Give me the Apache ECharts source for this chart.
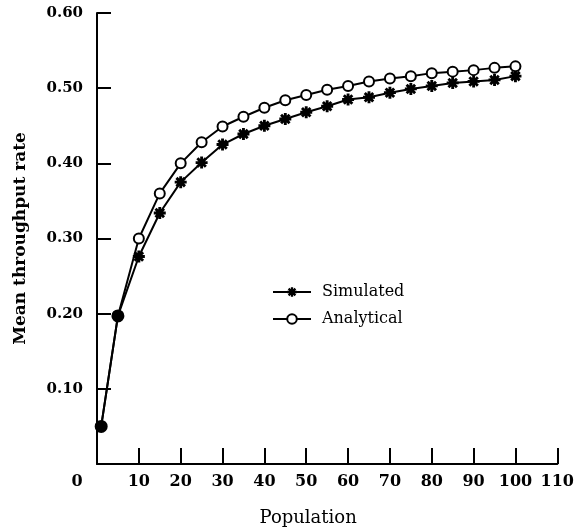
<!DOCTYPE html>
<html>
<head>
<meta charset="utf-8">
<script src="https://cdn.jsdelivr.net/npm/echarts@6/dist/echarts.min.js"></script>
<style>
  html, body { margin: 0; padding: 0; background: #fff; }
  #chart { width: 577px; height: 532px; }
</style>
</head>
<body>
<div id="chart"></div>
<script>
// population sizes where throughput was measured
var population = [1, 5, 10, 15, 20, 25, 30, 35, 40, 45, 50, 55, 60, 65, 70, 75, 80, 85, 90, 95, 100];
var simulated = [0.050, 0.197, 0.276, 0.334, 0.375, 0.401, 0.425, 0.439, 0.450, 0.459, 0.468,
  0.476, 0.485, 0.488, 0.494, 0.499, 0.503, 0.507, 0.509, 0.511, 0.516];
var analytical = [0.050, 0.197, 0.300, 0.360, 0.400, 0.428, 0.449, 0.462, 0.474, 0.484, 0.491,
  0.498, 0.503, 0.509, 0.513, 0.516, 0.520, 0.522, 0.524, 0.527, 0.529];

var FONT = 'DejaVu Serif';
// asterisk marker
var star = 'path://M-1.2,-5L1.2,-5L1.2,5L-1.2,5Z M-5,-1.2L5,-1.2L5,1.2L-5,1.2Z ' +
  'M-4.39,-2.69L-2.69,-4.39L4.39,2.69L2.69,4.39Z M2.69,-4.39L4.39,-2.69L-2.69,4.39L-4.39,2.69Z';

function buildData(vals) {
  return population.map(function (p, i) {
    if (i < 2) {
      // the first points coincide, drawn as solid dots
      return { value: [p, vals[i]], symbol: 'circle', symbolSize: 11, itemStyle: { color: '#000' } };
    }
    return [p, vals[i]];
  });
}

var chart = echarts.init(document.getElementById('chart'));
var option = {
  backgroundColor: '#fff',
  animation: false,
  grid: { left: 97, right: 17, top: 13, bottom: 66 },
  legend: {
    orient: 'vertical',
    left: 267,
    top: 279,
    itemWidth: 38,
    itemHeight: 12,
    itemGap: 11,
    textStyle: { fontFamily: FONT, fontSize: 16, color: '#000', padding: [0, 0, 0, 6] },
    data: ['Simulated', 'Analytical']
  },
  xAxis: {
    type: 'value',
    min: 0,
    max: 110,
    interval: 10,
    name: 'Population',
    nameLocation: 'middle',
    nameGap: 45,
    nameTextStyle: { fontFamily: FONT, fontSize: 18, color: '#000', padding: [0, 38, 0, 0] },
    axisLine: { lineStyle: { color: '#000', width: 2 } },
    axisTick: { inside: true, length: 16, lineStyle: { color: '#000', width: 2 } },
    axisLabel: {
      fontFamily: FONT, fontSize: 16, fontWeight: 'bold', color: '#000', margin: 10,
      formatter: function (v) { return v === 0 ? '{z|0}' : String(v); },
      rich: { z: { fontFamily: FONT, fontSize: 16, fontWeight: 'bold', color: '#000', padding: [0, 40, 0, 0] } }
    },
    splitLine: { show: false }
  },
  yAxis: {
    type: 'value',
    min: 0,
    max: 0.6,
    interval: 0.1,
    name: 'Mean throughput rate',
    nameLocation: 'middle',
    nameGap: 68,
    nameTextStyle: { fontFamily: FONT, fontSize: 17, fontWeight: 'bold', color: '#000' },
    axisLine: { lineStyle: { color: '#000', width: 2 } },
    axisTick: { inside: true, length: 14, lineStyle: { color: '#000', width: 2 } },
    axisLabel: {
      fontFamily: FONT, fontSize: 15, fontWeight: 'bold', color: '#000', margin: 14,
      showMinLabel: false,
      formatter: function (v) { return v.toFixed(2); }
    },
    splitLine: { show: false }
  },
  series: [
    {
      name: 'Simulated',
      type: 'line',
      symbol: star,
      symbolSize: 12,
      lineStyle: { color: '#000', width: 2 },
      itemStyle: { color: '#000', borderWidth: 0 },
      data: buildData(simulated)
    },
    {
      name: 'Analytical',
      type: 'line',
      symbol: 'emptyCircle',
      symbolSize: 10,
      lineStyle: { color: '#000', width: 2 },
      itemStyle: { color: '#000', borderColor: '#000', borderWidth: 2 },
      data: buildData(analytical)
    }
  ]
};
chart.setOption(option);
</script>
</body>
</html>
